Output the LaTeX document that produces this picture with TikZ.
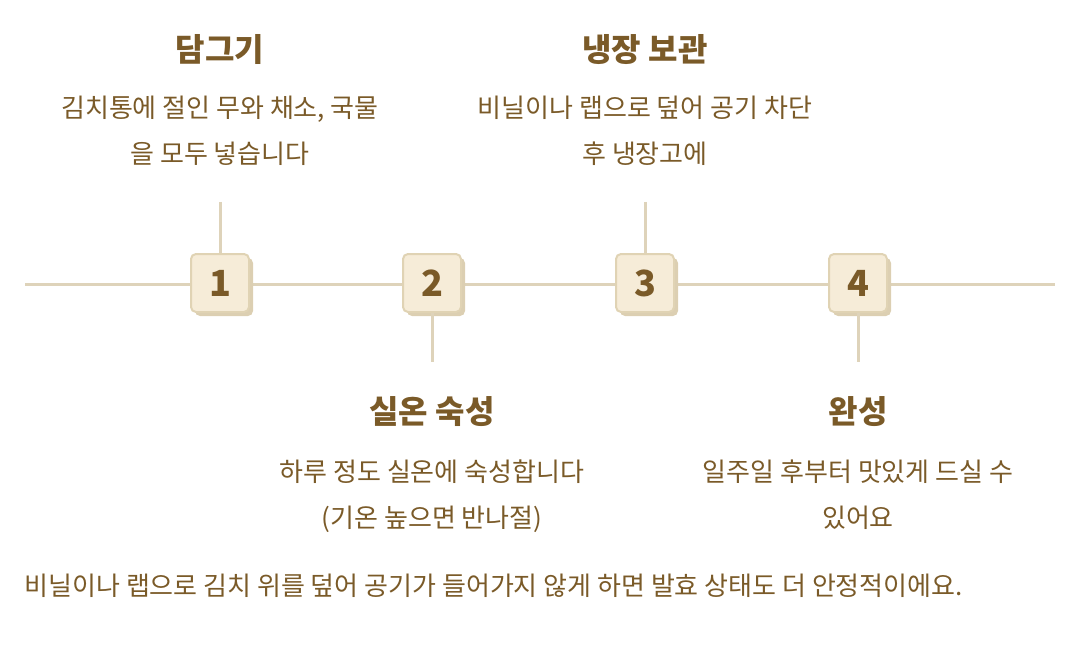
\documentclass[tikz,border=0pt]{standalone}
\usepackage{fontspec}
\setmainfont{Noto Sans CJK KR}
\usepackage{tikz}
\usetikzlibrary{positioning, shadows}
\definecolor{textbrown}{RGB}{122, 90, 40}
\definecolor{linebeige}{RGB}{222, 211, 186}
\definecolor{boxfill}{RGB}{246, 236, 216}
\definecolor{boxborder}{RGB}{224, 211, 180}
\definecolor{boxshadow}{RGB}{220, 207, 178}

\begin{document}
\begin{tikzpicture}[
    x=1pt, y=-1pt,
    track/.style={draw=linebeige, line width=3pt},
    stepnum/.style={rectangle, rounded corners=5pt, draw=boxborder, line width=2pt, fill=boxfill, minimum width=58pt, minimum height=58pt, font=\fontsize{36pt}{38pt}\selectfont\bfseries, text=textbrown,
        drop shadow={shadow xshift=4pt, shadow yshift=-4pt, fill=boxshadow, opacity=1}},
    steptitle/.style={font=\fontsize{32pt}{36pt}\selectfont\bfseries, text=textbrown},
    stepbody/.style={font=\fontsize{26pt}{46pt}\selectfont, text=textbrown, align=center}
]
    \useasboundingbox (0,0) rectangle (1088,666);

    % Timeline
    \coordinate (lstart) at (25,284);
    \coordinate (lend) at (1055,284);
    \draw [track] (lstart) -- (lend);

    % Stem ends
    \coordinate (top1) at (220,202);
    \coordinate (bot2) at (432,362);
    \coordinate (top3) at (645,202);
    \coordinate (bot4) at (858,362);

    % Step boxes
    \node (s1) [stepnum] at (220,283) {1};
    \node (s2) [stepnum] at (432,283) {2};
    \node (s3) [stepnum] at (645,283) {3};
    \node (s4) [stepnum] at (858,283) {4};

    % Stems
    \draw [track] (top1) -- (s1.north);
    \draw [track] (s2.south) -- (bot2);
    \draw [track] (top3) -- (s3.north);
    \draw [track] (s4.south) -- (bot4);

    % Labels above
    \node (t1) [steptitle] at (220,50) {담그기};
    \node (b1) [stepbody, anchor=north] at (220,92) {김치통에 절인 무와 채소, 국물\\을 모두 넣습니다};
    \node (t3) [steptitle] at (645,50) {냉장 보관};
    \node (b3) [stepbody, anchor=north] at (645,92) {비닐이나 랩으로 덮어 공기 차단\\후 냉장고에};

    % Labels below
    \node (t2) [steptitle] at (432,412) {실온 숙성};
    \node (b2) [stepbody, anchor=north] at (432,456) {하루 정도 실온에 숙성합니다\\(기온 높으면 반나절)};
    \node (t4) [steptitle] at (858,412) {완성};
    \node (b4) [stepbody, anchor=north] at (858,456) {일주일 후부터 맛있게 드실 수\\있어요};

    % Note
    \node (note) [font=\fontsize{26pt}{30pt}\selectfont, text=textbrown, anchor=west] at (21,586) {비닐이나 랩으로 김치 위를 덮어 공기가 들어가지 않게 하면 발효 상태도 더 안정적이에요.};

\end{tikzpicture}
\end{document}
